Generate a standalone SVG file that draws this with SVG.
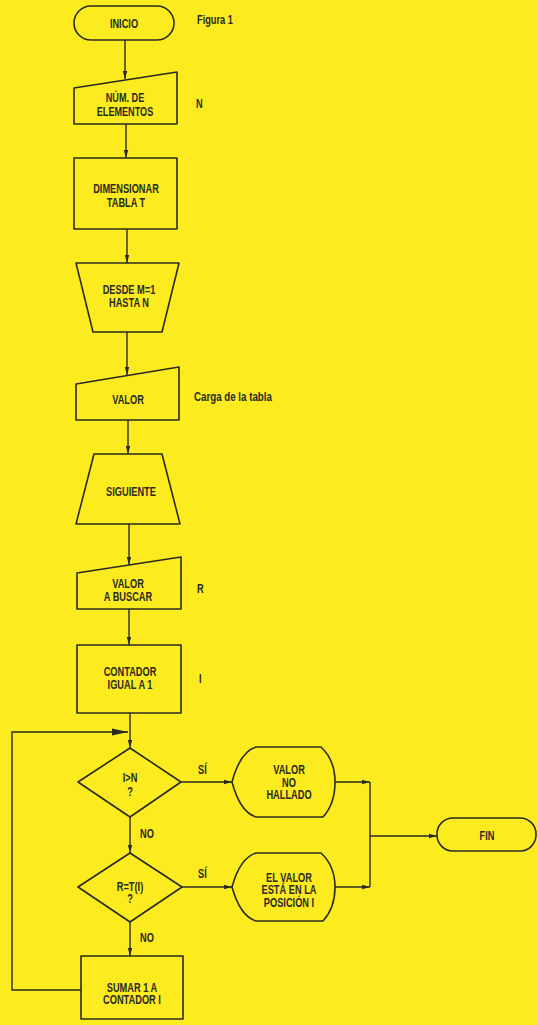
<svg xmlns="http://www.w3.org/2000/svg" width="538" height="1025" viewBox="0 0 538 1025">
<style>
.s{fill:none;stroke:#2a2a22;stroke-width:1.6;stroke-linejoin:round}
.c{fill:none;stroke:#2a2a22;stroke-width:1.4}
text{font-family:"Liberation Sans",Arial,sans-serif;font-weight:bold;font-size:12.5px;fill:#2a2a22}
.m{text-anchor:middle}
</style>
<defs>
<marker id="a" viewBox="0 0 8 6" refX="8" refY="3" markerWidth="8" markerHeight="6" markerUnits="userSpaceOnUse" orient="auto"><path d="M0,0.8 L8,3 L0,5.2 Z" fill="#2a2a22"/></marker>
<marker id="b" viewBox="0 0 16 8" refX="16" refY="4" markerWidth="16" markerHeight="8" markerUnits="userSpaceOnUse" orient="auto"><path d="M0,0.5 L16,4 L0,7.5 Z" fill="#2a2a22"/></marker>
</defs>
<rect width="538" height="1025" fill="#fcec1f"/>

<g id="connectors">
<path class="c" d="M125,40 V79" marker-end="url(#a)"/>
<path class="c" d="M126,124 V158" marker-end="url(#a)"/>
<path class="c" d="M127,229 V263" marker-end="url(#a)"/>
<path class="c" d="M127,332 V375" marker-end="url(#a)"/>
<path class="c" d="M128,420 V454" marker-end="url(#a)"/>
<path class="c" d="M129,524 V565" marker-end="url(#a)"/>
<path class="c" d="M129,609 V645" marker-end="url(#a)"/>
<path class="c" d="M130,713 V748" marker-end="url(#a)"/>
<path class="c" d="M130,817 V853" marker-end="url(#a)"/>
<path class="c" d="M130,922 V956" marker-end="url(#a)"/>
<path class="c" d="M81,990 H12 V732 H128" marker-end="url(#b)"/>
<path class="c" d="M181,782 H232" marker-end="url(#a)"/>
<path class="c" d="M182,887 H232" marker-end="url(#a)"/>
<path class="c" d="M335,782 H370" marker-end="url(#a)"/>
<path class="c" d="M335,887 H370" marker-end="url(#a)"/>
<path class="c" d="M370,782 V887"/>
<path class="c" d="M370,836 H437" marker-end="url(#a)"/>
<text transform="translate(198,774) scale(0.74,1)">SÍ</text>
<text transform="translate(198,878) scale(0.74,1)">SÍ</text>
<text transform="translate(140,838) scale(0.74,1)">NO</text>
<text transform="translate(140,942) scale(0.74,1)">NO</text>
</g>

<g id="inicio">
<rect class="s" x="74" y="6" width="100" height="34" rx="17"/>
<text class="m" transform="translate(124,28) scale(0.74,1)">INICIO</text>
</g>
<text transform="translate(197,24) scale(0.74,1)">Figura 1</text>

<g id="num-elementos">
<path class="s" d="M74,88 L177,72 V124 H74 Z"/>
<text class="m" style="font-size:12px" transform="translate(125,102) scale(0.76,1)">NÚM. DE</text>
<text class="m" style="font-size:12px" transform="translate(125,116) scale(0.76,1)">ELEMENTOS</text>
</g>
<text transform="translate(196,108) scale(0.74,1)">N</text>

<g id="dimensionar">
<rect class="s" x="74" y="158" width="103" height="71"/>
<text class="m" transform="translate(126,193) scale(0.74,1)">DIMENSIONAR</text>
<text class="m" transform="translate(126,207) scale(0.74,1)">TABLA T</text>
</g>

<g id="desde">
<path class="s" d="M76,263 H179 L162,332 H93 Z"/>
<text class="m" transform="translate(129,294) scale(0.74,1)">DESDE M=1</text>
<text class="m" transform="translate(129,307) scale(0.74,1)">HASTA N</text>
</g>

<g id="valor">
<path class="s" d="M76,384 L179,367 V420 H76 Z"/>
<text class="m" transform="translate(128,404) scale(0.74,1)">VALOR</text>
</g>
<text transform="translate(194,401) scale(0.78,1)">Carga de la tabla</text>

<g id="siguiente">
<path class="s" d="M94,454 H162 L180,524 H76 Z"/>
<text class="m" transform="translate(131,496) scale(0.74,1)">SIGUIENTE</text>
</g>

<g id="valor-buscar">
<path class="s" d="M77,573 L181,557 V609 H77 Z"/>
<text class="m" transform="translate(128,588) scale(0.74,1)">VALOR</text>
<text class="m" transform="translate(128,601) scale(0.74,1)">A BUSCAR</text>
</g>
<text transform="translate(197,593) scale(0.74,1)">R</text>

<g id="contador">
<rect class="s" x="77" y="645" width="104" height="68"/>
<text class="m" transform="translate(130,676) scale(0.74,1)">CONTADOR</text>
<text class="m" transform="translate(130,689) scale(0.74,1)">IGUAL A 1</text>
</g>
<text transform="translate(199,683) scale(0.74,1)">I</text>

<g id="dec1">
<path class="s" d="M130,748 L181,782 L130,817 L78,782 Z"/>
<text class="m" transform="translate(130,782) scale(0.74,1)">I&gt;N</text>
<text class="m" transform="translate(130,796) scale(0.74,1)">?</text>
</g>

<g id="dec2">
<path class="s" d="M130,853 L182,887 L130,922 L78,887 Z"/>
<text class="m" transform="translate(130,891) scale(0.74,1)">R=T(I)</text>
<text class="m" transform="translate(130,903) scale(0.74,1)">?</text>
</g>

<g id="no-hallado">
<path class="s" d="M232,782 Q240,752 256,747 H321 Q335,760 335,782 Q335,804 323,817 H256 Q240,812 232,782 Z"/>
<text class="m" transform="translate(289,774) scale(0.74,1)">VALOR</text>
<text class="m" transform="translate(289,787) scale(0.74,1)">NO</text>
<text class="m" transform="translate(289,799) scale(0.74,1)">HALLADO</text>
</g>

<g id="posicion">
<path class="s" d="M232,887 Q240,858 256,853 H321 Q335,866 335,887 Q335,908 323,921 H256 Q240,916 232,887 Z"/>
<text class="m" transform="translate(289,882) scale(0.74,1)">EL VALOR</text>
<text class="m" transform="translate(289,894) scale(0.74,1)">ESTÁ EN LA</text>
<text class="m" transform="translate(289,907) scale(0.74,1)">POSICIÓN I</text>
</g>

<g id="fin">
<rect class="s" x="437" y="818" width="99" height="33" rx="16"/>
<text class="m" transform="translate(487,840) scale(0.74,1)">FIN</text>
</g>

<g id="sumar">
<rect class="s" x="81" y="956" width="102" height="63"/>
<text class="m" transform="translate(132,992) scale(0.74,1)">SUMAR 1 A</text>
<text class="m" transform="translate(132,1004) scale(0.74,1)">CONTADOR I</text>
</g>
</svg>
